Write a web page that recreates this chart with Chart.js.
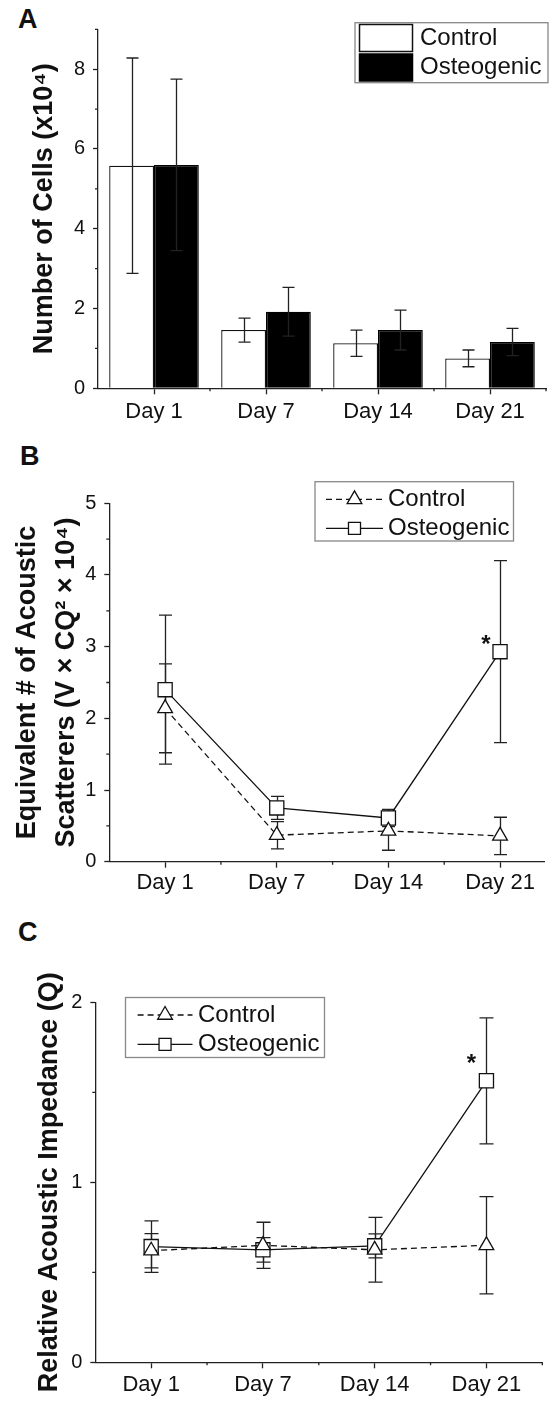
<!DOCTYPE html>
<html>
<head>
<meta charset="utf-8">
<title>Cell number and acoustic scatterers</title>
<script src="https://cdn.jsdelivr.net/npm/chart.js@4.4.0/dist/chart.umd.min.js"></script>
<style>
    html, body { margin: 0; padding: 0; background: #fff; }
    body {
        width: 556px; height: 1410px; position: relative; overflow: hidden;
        font-family: "Liberation Sans", Arial, sans-serif;
    }
    .panel { position: absolute; left: 0; width: 556px; }
    .letter {
        position: absolute; font-weight: bold; font-size: 27px;
        line-height: 27px; color: #111;
    }
</style>
</head>
<body>
<div class="letter" style="left:18px;top:6px">A</div>
<div class="letter" style="left:20px;top:443px">B</div>
<div class="letter" style="left:18px;top:919px">C</div>
<div class="panel" style="top:0;height:455px"><canvas id="chartA" width="556" height="455"></canvas></div>
<div class="panel" style="top:455px;height:465px"><canvas id="chartB" width="556" height="465"></canvas></div>
<div class="panel" style="top:920px;height:490px"><canvas id="chartC" width="556" height="490"></canvas></div>
<script>
// ---- data ----
const days = ['Day 1', 'Day 7', 'Day 14', 'Day 21'];
const dayPos = [1, 2, 3, 4];

// A: number of cells (x10^4)
const cellsControl = [5.58, 1.46, 1.13, 0.75];
const cellsControlErr = [2.70, 0.30, 0.33, 0.21];
const cellsOsteo = [5.60, 1.92, 1.46, 1.16];
const cellsOsteoErr = [2.15, 0.61, 0.50, 0.34];

// B: equivalent # of acoustic scatterers
const scatControl = [2.14, 0.37, 0.43, 0.36];
const scatControlErr = [0.62, 0.19, 0.27, 0.26];
const scatOsteo = [2.40, 0.75, 0.61, 2.93];
const scatOsteoErr = [1.04, 0.16, 0.12, 1.27];
const scatSignif = [false, false, false, true];

// C: relative acoustic impedance
const impControl = [0.62, 0.65, 0.625, 0.65];
const impControlErr = [0.095, 0.128, 0.18, 0.27];
const impOsteo = [0.643, 0.625, 0.647, 1.564];
const impOsteoErr = [0.143, 0.068, 0.067, 0.35];
const impSignif = [false, false, false, true];

// tick values
const yTicksA = [0, 2, 4, 6, 8];
const yMinorA = [1, 3, 5, 7, 9];
const xMinorA = [0.5, 1.5, 2.5, 3.5];
const yTicksB = [0, 1, 2, 3, 4, 5];
const yMinorB = [0.5, 1.5, 2.5, 3.5, 4.5];
const xMinorB = [1.5, 2.5, 3.5];
const yTicksC = [0, 1, 2];
const yMinorC = [0.5, 1.5];
const xMinorC = [1.5, 2.5, 3.5, 4.5];

const FONT = '"Liberation Sans", Arial, sans-serif';
const INK = '#111';
const AXIS = '#222';
Chart.defaults.font.family = FONT;
Chart.defaults.color = INK;

// ---- plugins ----
function drawErrorBars(chart, o) {
    const ctx = chart.ctx, y = chart.scales.y;
    ctx.save();
    ctx.strokeStyle = AXIS;
    ctx.lineWidth = 1.3;
    o.series.forEach(s => {
        const meta = chart.getDatasetMeta(s.dataset);
        meta.data.forEach((el, i) => {
            const v = meta.controller.getParsed(i).y, e = s.err[i];
            const top = y.getPixelForValue(v + e), bot = y.getPixelForValue(v - e);
            const x = Math.round(el.x) + 0.5, h = o.cap / 2;
            ctx.beginPath();
            ctx.moveTo(x, top); ctx.lineTo(x, bot);
            ctx.moveTo(x - h, top); ctx.lineTo(x + h, top);
            ctx.moveTo(x - h, bot); ctx.lineTo(x + h, bot);
            ctx.stroke();
        });
    });
    ctx.restore();
}
const errorBars = {
    id: 'errorBars',
    beforeDatasetsDraw(chart, args, o) { if (o.series && o.layer === 'back') drawErrorBars(chart, o); },
    afterDatasetsDraw(chart, args, o) { if (o.series && o.layer !== 'back') drawErrorBars(chart, o); }
};

const minorTicks = {
    id: 'minorTicks',
    afterDraw(chart, args, o) {
        if (!o.x) return;
        const ctx = chart.ctx, area = chart.chartArea;
        ctx.save();
        ctx.strokeStyle = AXIS;
        ctx.lineWidth = 1.3;
        ctx.beginPath();
        o.y.forEach(v => {
            const p = chart.scales.y.getPixelForValue(v);
            ctx.moveTo(area.left, p); ctx.lineTo(area.left - o.len, p);
        });
        o.x.forEach(v => {
            const p = chart.scales.x.getPixelForValue(v);
            ctx.moveTo(p, area.bottom); ctx.lineTo(p, area.bottom + o.len);
        });
        ctx.stroke();
        ctx.restore();
    }
};

const stars = {
    id: 'stars',
    afterDatasetsDraw(chart, args, o) {
        if (!o.flags) return;
        const ctx = chart.ctx, meta = chart.getDatasetMeta(o.dataset);
        ctx.save();
        ctx.fillStyle = INK;
        ctx.font = 'bold 24px ' + FONT;
        ctx.textAlign = 'center';
        ctx.textBaseline = 'middle';
        o.flags.forEach((f, i) => {
            if (!f) return;
            const el = meta.data[i];
            ctx.fillText('*', el.x + o.dx, el.y + o.dy);
        });
        ctx.restore();
    }
};

const boxLegend = {
    id: 'boxLegend',
    afterDraw(chart, args, o) {
        if (!o.box) return;
        const ctx = chart.ctx, b = o.box;
        ctx.save();
        ctx.strokeStyle = '#888';
        ctx.lineWidth = 1.3;
        ctx.strokeRect(b.x, b.y, b.w, b.h);
        ctx.font = '24px ' + FONT;
        ctx.textBaseline = 'middle';
        ctx.textAlign = 'left';
        chart.data.datasets.forEach((ds, i) => {
            const cy = o.rows[i];
            if (o.kind === 'swatch') {
                ctx.fillStyle = ds.backgroundColor;
                ctx.fillRect(o.sx, cy - o.sh / 2, o.sw, o.sh);
                ctx.strokeStyle = ds.borderColor;
                ctx.lineWidth = 1.5;
                ctx.strokeRect(o.sx, cy - o.sh / 2, o.sw, o.sh);
            } else {
                ctx.strokeStyle = ds.borderColor;
                ctx.lineWidth = ds.borderWidth;
                ctx.setLineDash(ds.borderDash || []);
                ctx.beginPath();
                ctx.moveTo(o.lx0, cy); ctx.lineTo(o.lx1, cy);
                ctx.stroke();
                ctx.setLineDash([]);
                ctx.fillStyle = '#fff';
                ctx.lineWidth = ds.pointBorderWidth;
                Chart.helpers.drawPoint(ctx, {
                    pointStyle: ds.pointStyle, radius: o.mr, rotation: 0,
                    borderWidth: ds.pointBorderWidth
                }, (o.lx0 + o.lx1) / 2, cy);
            }
            ctx.fillStyle = INK;
            ctx.fillText(ds.label, o.tx, cy);
        });
        ctx.restore();
    }
};

Chart.register(errorBars, minorTicks, stars, boxLegend);

// ---- shared axis pieces ----
function xAxis(height, pad) {
    return {
        grid: { drawOnChartArea: false, offset: false, tickLength: 6, tickColor: AXIS, tickWidth: 1.3 },
        border: { color: AXIS, width: 1.3 },
        ticks: { font: { size: 22 }, color: INK, padding: pad, autoSkip: false, maxRotation: 0 },
        afterFit: s => { s.height = height; }
    };
}
function yAxis(width, ticks, title) {
    return {
        min: 0,
        afterBuildTicks: s => { s.ticks = ticks.map(v => ({ value: v })); },
        grid: { drawOnChartArea: false, tickLength: 5, tickColor: AXIS, tickWidth: 1.3 },
        border: { color: AXIS, width: 1.3 },
        ticks: { font: { size: 20 }, color: INK, padding: 8 },
        title: title,
        afterFit: s => { s.width = width; }
    };
}

// ---- A: bars ----
const axA = xAxis(66.7, 4);
axA.offset = true;
const ayA = yAxis(98, yTicksA, {
    display: true, text: 'Number of Cells (x10⁴)', color: INK,
    font: { size: 27, weight: 'bold', lineHeight: 1.2 }, padding: { top: 28.8, bottom: 0 }
});
ayA.max = 9;
new Chart(document.getElementById('chartA'), {
    type: 'bar',
    data: {
        labels: days,
        datasets: [
            { label: 'Control', data: cellsControl, backgroundColor: '#fff', borderColor: INK,
              borderWidth: 1.3, barPercentage: 1, categoryPercentage: 0.8 },
            { label: 'Osteogenic', data: cellsOsteo, backgroundColor: '#000', borderColor: '#000',
              borderWidth: 1.3, barPercentage: 1, categoryPercentage: 0.8 }
        ]
    },
    options: {
        responsive: false, animation: false, devicePixelRatio: 1,
        layout: { padding: { top: 29.3, right: 10, bottom: 0, left: 0 } },
        scales: { x: axA, y: ayA },
        plugins: {
            legend: { display: false }, tooltip: { enabled: false },
            errorBars: { layer: 'front', cap: 12, series: [
                { dataset: 0, err: cellsControlErr }, { dataset: 1, err: cellsOsteoErr }] },
            minorTicks: { x: xMinorA, y: yMinorA, len: 3 },
            boxLegend: { kind: 'swatch', box: { x: 355, y: 22.7, w: 193, h: 60 },
                rows: [38, 67.5], sx: 359.5, sw: 53, sh: 27, tx: 420 }
        }
    }
});

// ---- B and C: lines ----
function lineSets(ctrl, ctrlErrUnused, osteo) {
    return [
        { label: 'Control', data: dayPos.map((x, i) => ({ x: x, y: ctrl[i] })),
          borderColor: INK, borderWidth: 1.3, borderDash: [6, 4], tension: 0,
          pointStyle: 'triangle', pointRadius: 8.5, pointBackgroundColor: '#fff',
          pointBorderColor: INK, pointBorderWidth: 1.3 },
        { label: 'Osteogenic', data: dayPos.map((x, i) => ({ x: x, y: osteo[i] })),
          borderColor: INK, borderWidth: 1.3, tension: 0,
          pointStyle: 'rect', pointRadius: 10, pointBackgroundColor: '#fff',
          pointBorderColor: INK, pointBorderWidth: 1.3 }
    ];
}
function dayAxis(min, max, height, pad) {
    const a = xAxis(height, pad);
    a.type = 'linear';
    a.min = min;
    a.max = max;
    a.afterBuildTicks = s => { s.ticks = dayPos.map(v => ({ value: v })); };
    a.ticks.callback = (v, i) => days[i];
    return a;
}

const ayB = yAxis(109.3, yTicksB, {
    display: true, text: ['Equivalent # of Acoustic', 'Scatterers (V × CQ² × 10⁴)'], color: INK,
    font: { size: 27, weight: 'bold', lineHeight: 1.44 }, padding: { top: 8.5, bottom: 0 }
});
ayB.max = 5;
new Chart(document.getElementById('chartB'), {
    type: 'line',
    data: { datasets: lineSets(scatControl, scatControlErr, scatOsteo) },
    options: {
        responsive: false, animation: false, devicePixelRatio: 1,
        layout: { padding: { top: 48.3, right: 6.7, bottom: 0, left: 0 } },
        scales: { x: dayAxis(0.5, 4.4, 58.3, 2), y: ayB },
        plugins: {
            legend: { display: false }, tooltip: { enabled: false },
            errorBars: { layer: 'back', cap: 13, series: [
                { dataset: 0, err: scatControlErr }, { dataset: 1, err: scatOsteoErr }] },
            minorTicks: { x: xMinorB, y: yMinorB, len: 3 },
            stars: { dataset: 1, flags: scatSignif, dx: -14, dy: -6 },
            boxLegend: { kind: 'line', box: { x: 315, y: 26.7, w: 198.5, h: 59.3 },
                rows: [44.3, 73.3], lx0: 326, lx1: 383, mr: 8.5, tx: 388 }
        }
    }
});

const ayC = yAxis(95.3, yTicksC, {
    display: true, text: 'Relative Acoustic Impedance (Q)', color: INK,
    font: { size: 27, weight: 'bold', lineHeight: 1.2 }, padding: { top: 33.8, bottom: 0 }
});
ayC.max = 2;
new Chart(document.getElementById('chartC'), {
    type: 'line',
    data: { datasets: lineSets(impControl, impControlErr, impOsteo) },
    options: {
        responsive: false, animation: false, devicePixelRatio: 1,
        layout: { padding: { top: 82.3, right: 13.7, bottom: 0, left: 0 } },
        scales: { x: dayAxis(0.5, 4.5, 47.7, 3.5), y: ayC },
        plugins: {
            legend: { display: false }, tooltip: { enabled: false },
            errorBars: { layer: 'back', cap: 14, series: [
                { dataset: 0, err: impControlErr }, { dataset: 1, err: impOsteoErr }] },
            minorTicks: { x: xMinorC, y: yMinorC, len: 3 },
            stars: { dataset: 1, flags: impSignif, dx: -15, dy: -16 },
            boxLegend: { kind: 'line', box: { x: 125.5, y: 77.5, w: 199, h: 60 },
                rows: [95, 124.3], lx0: 137.6, lx1: 192.5, mr: 8.5, tx: 198 }
        }
    }
});
</script>
</body>
</html>
